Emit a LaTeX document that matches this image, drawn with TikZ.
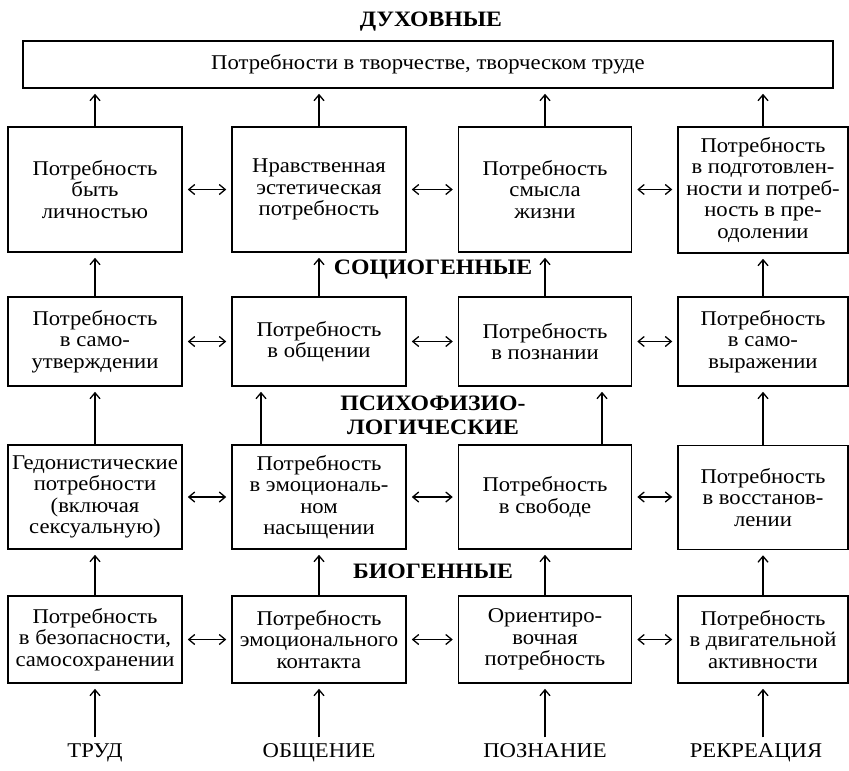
\documentclass[tikz,border=0pt]{standalone}
\usepackage{fontspec}
\setmainfont{Liberation Serif}[FakeStretch=1.08]
\usetikzlibrary{arrows.meta}
\begin{document}
\begin{tikzpicture}[x=1pt,y=-1pt,
  box/.style={draw, line width=1.5pt, align=center, inner sep=0pt, font=\fontsize{21}{21.5}\selectfont},
  head/.style={font=\fontsize{22}{24}\selectfont\bfseries, align=center, inner sep=1pt},
  lab/.style={font=\fontsize{21}{22}\selectfont, inner sep=2pt, text height=15pt, text depth=4pt},
  tip/.tip={Straight Barb[length=6pt,width=10pt,line width=1.3pt]},
  up/.style={-tip, line width=1.4pt, shorten >=5pt},
  dbl/.style={tip-tip, line width=1.4pt, shorten >=5pt, shorten <=5pt}]
\useasboundingbox (0,0) rectangle (849,771);

% headings
\node[head] (hd) at (431,22) {ДУХОВНЫЕ};
\node[head] (hs) at (433,270) {СОЦИОГЕННЫЕ};
\node[head] (hp) at (433,415) {ПСИХОФИЗИО-\\ЛОГИЧЕСКИЕ};
\node[head] (hb) at (433,571) {БИОГЕННЫЕ};

% top box
\node[box, minimum width=810pt, minimum height=47pt] (top) at (428,64.5)
  {Потребности в творчестве, творческом труде};

% row 1
\node[box, minimum width=174pt, minimum height=125pt] (a1) at (95,189.5) {Потребность\\быть\\личностью};
\node[box, minimum width=174pt, minimum height=125pt] (a2) at (319,189.5) {Нравственная\\эстетическая\\потребность};
\node[box, minimum width=173pt, minimum height=125pt] (a3) at (545,189.5) {Потребность\\смысла\\жизни};
\node[box, minimum width=170pt, minimum height=126pt] (a4) at (763,190) {Потребность\\в подготовлен-\\ности и потреб-\\ность в пре-\\одолении};

% row 2
\node[box, minimum width=174pt, minimum height=89pt] (b1) at (95,341.5) {Потребность\\в само-\\утверждении};
\node[box, minimum width=174pt, minimum height=89pt] (b2) at (319,341.5) {Потребность\\в общении};
\node[box, minimum width=173pt, minimum height=89pt] (b3) at (545,341.5) {Потребность\\в познании};
\node[box, minimum width=170pt, minimum height=89pt] (b4) at (763,341.5) {Потребность\\в само-\\выражении};

% row 3
\node[box, minimum width=174pt, minimum height=104pt] (c1) at (95,497) {Гедонистические\\потребности\\(включая\\сексуальную)};
\node[box, minimum width=174pt, minimum height=104pt] (c2) at (319,497) {Потребность\\в эмоциональ-\\ном\\насыщении};
\node[box, minimum width=173pt, minimum height=104pt] (c3) at (545,497) {Потребность\\в свободе};
\node[box, minimum width=170pt, minimum height=104pt] (c4) at (763,497.5) {Потребность\\в восстанов-\\лении};

% row 4
\node[box, minimum width=174pt, minimum height=87pt] (d1) at (95,639.5) {Потребность\\в безопасности,\\самосохранении};
\node[box, minimum width=174pt, minimum height=87pt] (d2) at (319,639.5) {Потребность\\эмоционального\\контакта};
\node[box, minimum width=173pt, minimum height=87pt] (d3) at (545,639.5) {Ориентиро-\\вочная\\потребность};
\node[box, minimum width=170pt, minimum height=87pt] (d4) at (763,639.5) {Потребность\\в двигательной\\активности};

% bottom labels
\node[lab] (t1) at (95,752) {ТРУД};
\node[lab] (t2) at (319,752) {ОБЩЕНИЕ};
\node[lab] (t3) at (545,752) {ПОЗНАНИЕ};
\node[lab] (t4) at (756,752) {РЕКРЕАЦИЯ};

% vertical arrows: row1 -> top
\draw[up] (a1.north) -- (a1.north |- top.south);
\draw[up] (a2.north) -- (a2.north |- top.south);
\draw[up] (a3.north) -- (a3.north |- top.south);
\draw[up] (a4.north) -- (a4.north |- top.south);

% row2 -> row1
\draw[up] (b1.north) -- (a1.south);
\draw[up] (b2.north) -- (a2.south);
\draw[up] (b3.north) -- (a3.south);
\draw[up] (b4.north) -- (b4.north |- a4.south);

% row3 -> row2
\draw[up] (c1.north) -- (b1.south);
\draw[up] ([xshift=-58pt]c2.north) -- ([xshift=-58pt]b2.south);
\draw[up] ([xshift=57pt]c3.north) -- ([xshift=57pt]b3.south);
\draw[up] (c4.north) -- (b4.south);

% row4 -> row3
\draw[up] (d1.north) -- (c1.south);
\draw[up] (d2.north) -- (c2.south);
\draw[up] (d3.north) -- (c3.south);
\draw[up] (d4.north) -- (d4.north |- c4.south);

% labels -> row4
\draw[up, shorten <=3pt] (t1.north) -- (d1.south);
\draw[up, shorten <=3pt] (t2.north) -- (d2.south);
\draw[up, shorten <=3pt] (t3.north) -- (d3.south);
\draw[up, shorten <=3pt] (t4.north -| d4.south) -- (d4.south);

% horizontal double arrows
\draw[dbl] (a1.east) -- (a2.west);
\draw[dbl] (a2.east) -- (a3.west);
\draw[dbl] (a3.east) -- (a3.east -| a4.west);
\draw[dbl] (b1.east) -- (b2.west);
\draw[dbl] (b2.east) -- (b3.west);
\draw[dbl] (b3.east) -- (b4.west);
\draw[dbl] (c1.east) -- (c2.west);
\draw[dbl] (c2.east) -- (c3.west);
\draw[dbl] (c3.east) -- (c3.east -| c4.west);
\draw[dbl] (d1.east) -- (d2.west);
\draw[dbl] (d2.east) -- (d3.west);
\draw[dbl] (d3.east) -- (d4.west);
\end{tikzpicture}
\end{document}
